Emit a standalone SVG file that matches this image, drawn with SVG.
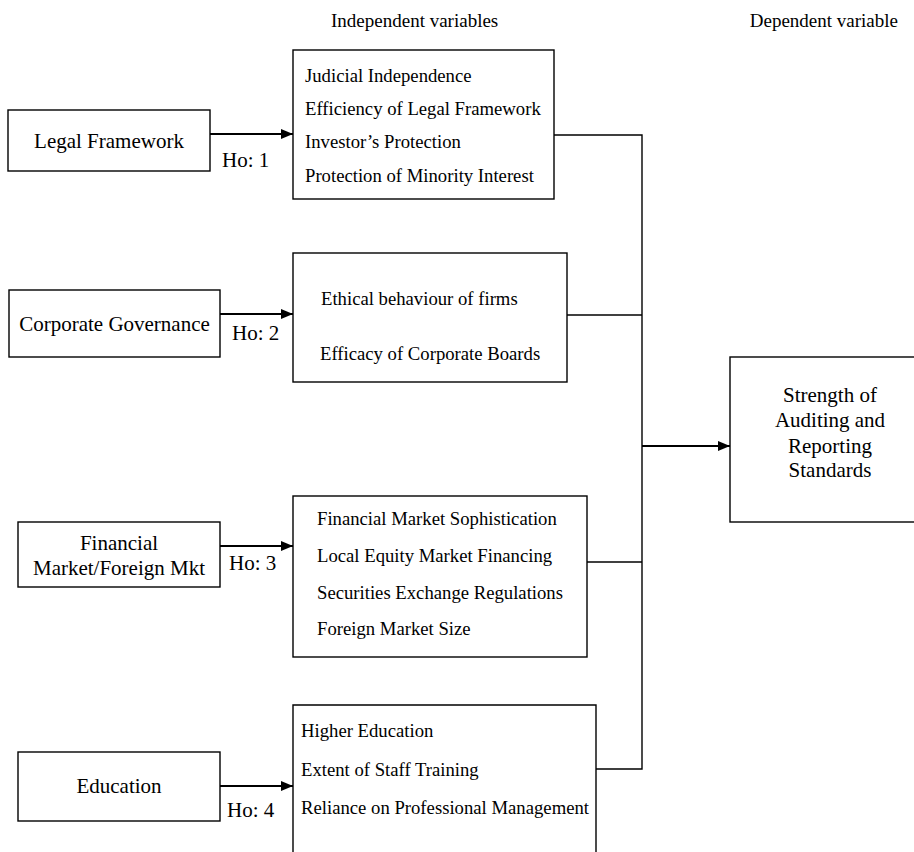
<svg xmlns="http://www.w3.org/2000/svg" width="914" height="852" viewBox="0 0 914 852">
<defs>
<style>
.lbl{font-size:21px}
.hdr{font-size:19px}
.itm{font-size:18.7px}
.box{fill:#fff;stroke:#000;stroke-width:1.4}
.arr{fill:none;stroke:#000;stroke-width:2.2}
.con{fill:none;stroke:#000;stroke-width:1.4}
</style>
<marker id="ah" markerUnits="userSpaceOnUse" markerWidth="12" markerHeight="10" refX="12" refY="5" orient="auto">
<path d="M0,0 L12,5 L0,10 z" fill="#000"/>
</marker>
</defs>
<rect width="914" height="852" fill="#fff"/>
<g font-family="'Liberation Serif', 'Times New Roman', 'DejaVu Serif', serif" fill="#000">
<g id="headers">
<text class="hdr" x="331" y="27">Independent variables</text>
<text class="hdr" x="898" y="27" text-anchor="end">Dependent variable</text>
</g>
<g id="connectors">
<line class="arr" x1="210" y1="134" x2="293" y2="134" marker-end="url(#ah)"/>
<line class="arr" x1="220" y1="314" x2="293" y2="314" marker-end="url(#ah)"/>
<line class="arr" x1="220" y1="546" x2="293" y2="546" marker-end="url(#ah)"/>
<line class="arr" x1="220" y1="786" x2="293" y2="786" marker-end="url(#ah)"/>
<polyline class="con" points="554,135 642,135 642,769 596,769"/>
<line class="con" x1="567" y1="315" x2="642" y2="315"/>
<line class="con" x1="587" y1="562" x2="642" y2="562"/>
<line class="arr" x1="642" y1="446" x2="730" y2="446" marker-end="url(#ah)"/>
<text class="lbl" x="222" y="167">Ho: 1</text>
<text class="lbl" x="232" y="340">Ho: 2</text>
<text class="lbl" x="229" y="570">Ho: 3</text>
<text class="lbl" x="227" y="817">Ho: 4</text>
</g>
<g id="legal">
<rect class="box" x="8" y="110" width="202" height="61"/>
<text class="lbl" x="109" y="148" text-anchor="middle">Legal Framework</text>
</g>
<g id="corporate">
<rect class="box" x="9" y="290" width="211" height="67"/>
<text class="lbl" x="114.5" y="331" text-anchor="middle">Corporate Governance</text>
</g>
<g id="financial">
<rect class="box" x="18" y="522" width="202" height="65"/>
<text class="lbl" x="119" y="550" text-anchor="middle">Financial</text>
<text class="lbl" x="119" y="575" text-anchor="middle">Market/Foreign Mkt</text>
</g>
<g id="education">
<rect class="box" x="18" y="752" width="202" height="69"/>
<text class="lbl" x="119" y="793" text-anchor="middle">Education</text>
</g>
<g id="legal-vars">
<rect class="box" x="293" y="50" width="261" height="149"/>
<text class="itm" x="305" y="82">Judicial Independence</text>
<text class="itm" x="305" y="115">Efficiency of Legal Framework</text>
<text class="itm" x="305" y="148">Investor’s Protection</text>
<text class="itm" x="305" y="182">Protection of Minority Interest</text>
</g>
<g id="corporate-vars">
<rect class="box" x="293" y="253" width="274" height="129"/>
<text class="itm" x="321" y="305">Ethical behaviour of firms</text>
<text class="itm" x="320" y="360">Efficacy of Corporate Boards</text>
</g>
<g id="financial-vars">
<rect class="box" x="293" y="496" width="294" height="161"/>
<text class="itm" x="317" y="525">Financial Market Sophistication</text>
<text class="itm" x="317" y="562">Local Equity Market Financing</text>
<text class="itm" x="317" y="599">Securities Exchange Regulations</text>
<text class="itm" x="317" y="635">Foreign Market Size</text>
</g>
<g id="education-vars">
<path class="box" d="M293,853 V705 H596 V853"/>
<text class="itm" x="301" y="737">Higher Education</text>
<text class="itm" x="301" y="776">Extent of Staff Training</text>
<text class="itm" x="301" y="814">Reliance on Professional Management</text>
</g>
<g id="dependent">
<rect class="box" x="730" y="357" width="200" height="165"/>
<text class="lbl" x="830" y="402" text-anchor="middle">Strength of</text>
<text class="lbl" x="830" y="427" text-anchor="middle">Auditing and</text>
<text class="lbl" x="830" y="453" text-anchor="middle">Reporting</text>
<text class="lbl" x="830" y="477" text-anchor="middle">Standards</text>
</g>
</g>
</svg>
